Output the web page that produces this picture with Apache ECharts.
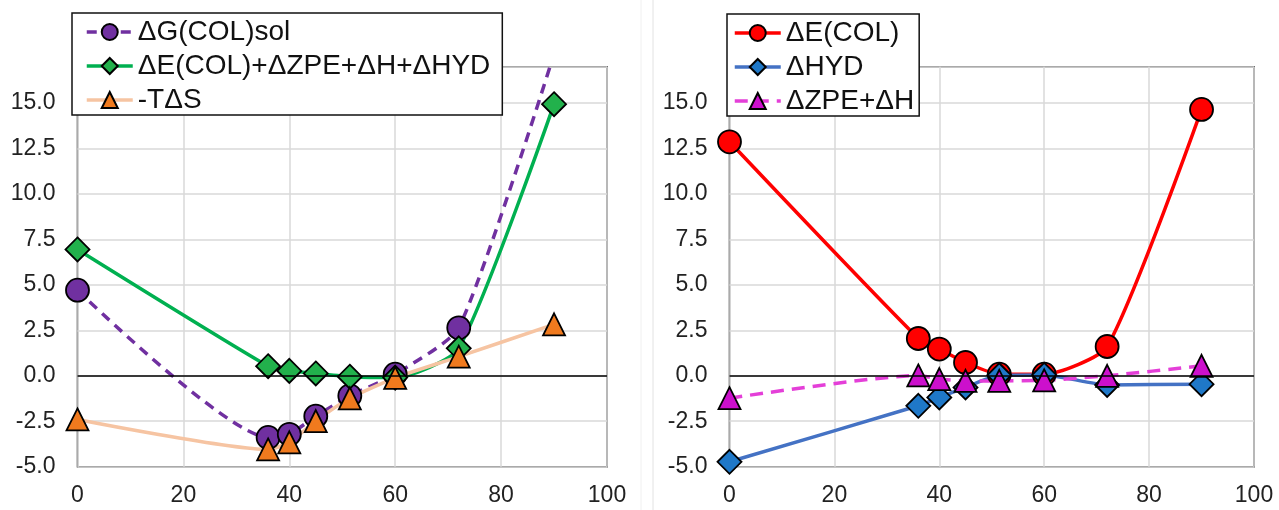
<!DOCTYPE html>
<html>
<head>
<meta charset="utf-8">
<script src="https://cdn.jsdelivr.net/npm/echarts@6/dist/echarts.min.js"></script>
<style>
  html, body { margin: 0; padding: 0; background: #fff; }
  #echarts { width: 1279px; height: 510px; }
</style>
</head>
<body>
<div id="echarts"></div>
<script>
// angle values shared by both panels
var angles = [0, 36, 40, 45, 51.43, 60, 72, 90];

// left panel
var dGsol = [4.71, -3.39, -3.22, -2.22, -1.1, 0.09, 2.64, 17.7];
var dEsum = [6.95, 0.53, 0.27, 0.13, -0.05, -0.1, 1.51, 14.94];
var mTdS = [-2.4, -4.05, -3.66, -2.49, -1.24, -0.11, 1.05, 2.83];

// right panel
var dEcol = [12.87, 2.05, 1.47, 0.73, 0.09, 0.09, 1.61, 14.65];
var dHyd = [-4.73, -1.65, -1.19, -0.64, 0.03, 0.05, -0.5, -0.46];
var dZpeH = [-1.23, 0.02, -0.18, -0.28, -0.28, -0.25, 0.0, 0.55];

var xTicks = { min: 0, max: 100, interval: 20 };
var yTicks = { min: -5, max: 17, interval: 2.5 };

function pairs(ys) {
    return angles.map(function (a, i) { return [a, ys[i]]; });
}

var FONT = '"Liberation Sans", Arial, sans-serif';

function xAxis(idx) {
    return {
        type: 'value', gridIndex: idx,
        min: xTicks.min, max: xTicks.max, interval: xTicks.interval,
        axisLine: { show: false },
        axisTick: { show: false },
        axisLabel: { fontSize: 23, fontFamily: FONT, color: '#222', margin: 17 },
        splitLine: { lineStyle: { color: '#d9d9d9', width: 1.5 } }
    };
}

function yAxis(idx) {
    return {
        type: 'value', gridIndex: idx,
        min: yTicks.min, max: yTicks.max, interval: yTicks.interval,
        axisLine: { show: false },
        axisTick: { show: false },
        axisLabel: {
            fontSize: 23, fontFamily: FONT, color: '#222', margin: 22,
            showMaxLabel: false,
            formatter: function (v) { return v.toFixed(1); }
        },
        splitLine: { lineStyle: { color: '#d9d9d9', width: 1.5 } }
    };
}

function series(name, idx, ys, lineColor, fill, symbol, size, dash) {
    return {
        name: name, type: 'line',
        xAxisIndex: idx, yAxisIndex: idx,
        data: pairs(ys),
        smooth: 0.2,
        symbol: symbol, symbolSize: size,
        lineStyle: { color: lineColor, width: 3.5, type: dash || 'solid' },
        itemStyle: { color: fill, borderColor: '#000', borderWidth: 1.8 },
        emphasis: { disabled: true }
    };
}

var zeroLine = {
    silent: true, symbol: 'none',
    label: { show: false },
    lineStyle: { color: '#000', width: 1.5, type: 'solid' },
    data: [{ yAxis: 0 }]
};

var legendBase = {
    orient: 'vertical',
    itemWidth: 46, itemHeight: 20, itemGap: 4,
    backgroundColor: '#fff',
    borderColor: '#111', borderWidth: 1.5, borderRadius: 0,
    textStyle: { fontSize: 28, fontFamily: FONT, color: '#111', lineHeight: 30 },
    lineStyle: { width: 3.5 },
    selectedMode: false,
    z: 10
};

var s1 = series('ΔG(COL)sol', 0, dGsol, '#7030a0', '#7030a0', 'circle', 23, [10, 7]);
s1.markLine = zeroLine;
var s2 = series('ΔE(COL)+ΔZPE+ΔH+ΔHYD', 0, dEsum, '#00b050', '#22b14c', 'diamond', 24);
var s3 = series('-TΔS', 0, mTdS, '#f6c4a2', '#f07a1e', 'triangle', 22);

var s4 = series('ΔE(COL)', 1, dEcol, '#ff0000', '#ff0000', 'circle', 23);
s4.markLine = zeroLine;
var s5 = series('ΔHYD', 1, dHyd, '#4472c4', '#1f78c8', 'diamond', 24);
var s6 = series('ΔZPE+ΔH', 1, dZpeH, '#e43fd8', '#cc10cc', 'triangle', 22, [13, 8]);

var chart = echarts.init(document.querySelector('#echarts'));
chart.setOption({
    animation: false,
    grid: [
        { left: 77.5, top: 66.7, width: 529.5, height: 400, show: true, borderColor: '#222', borderWidth: 1.5, backgroundColor: 'transparent' },
        { left: 729.5, top: 66.7, width: 524.5, height: 400, show: true, borderColor: '#222', borderWidth: 1.5, backgroundColor: 'transparent' }
    ],
    xAxis: [xAxis(0), xAxis(1)],
    yAxis: [yAxis(0), yAxis(1)],
    legend: [
        Object.assign({}, legendBase, {
            left: 72, top: 13, padding: [4, 12, 0, 13],
            data: [s1.name, s2.name, s3.name]
        }),
        Object.assign({}, legendBase, {
            left: 727, top: 14, padding: [4, 5, 0, 6],
            data: [s4.name, s5.name, s6.name]
        })
    ],
    graphic: [
        { type: 'line', shape: { x1: 641, y1: 0, x2: 641, y2: 510 }, style: { stroke: '#f0f0f0', lineWidth: 1 } },
        { type: 'line', shape: { x1: 653, y1: 0, x2: 653, y2: 510 }, style: { stroke: '#e2e2e2', lineWidth: 1 } }
    ],
    series: [s1, s2, s3, s4, s5, s6]
});
</script>
</body>
</html>
